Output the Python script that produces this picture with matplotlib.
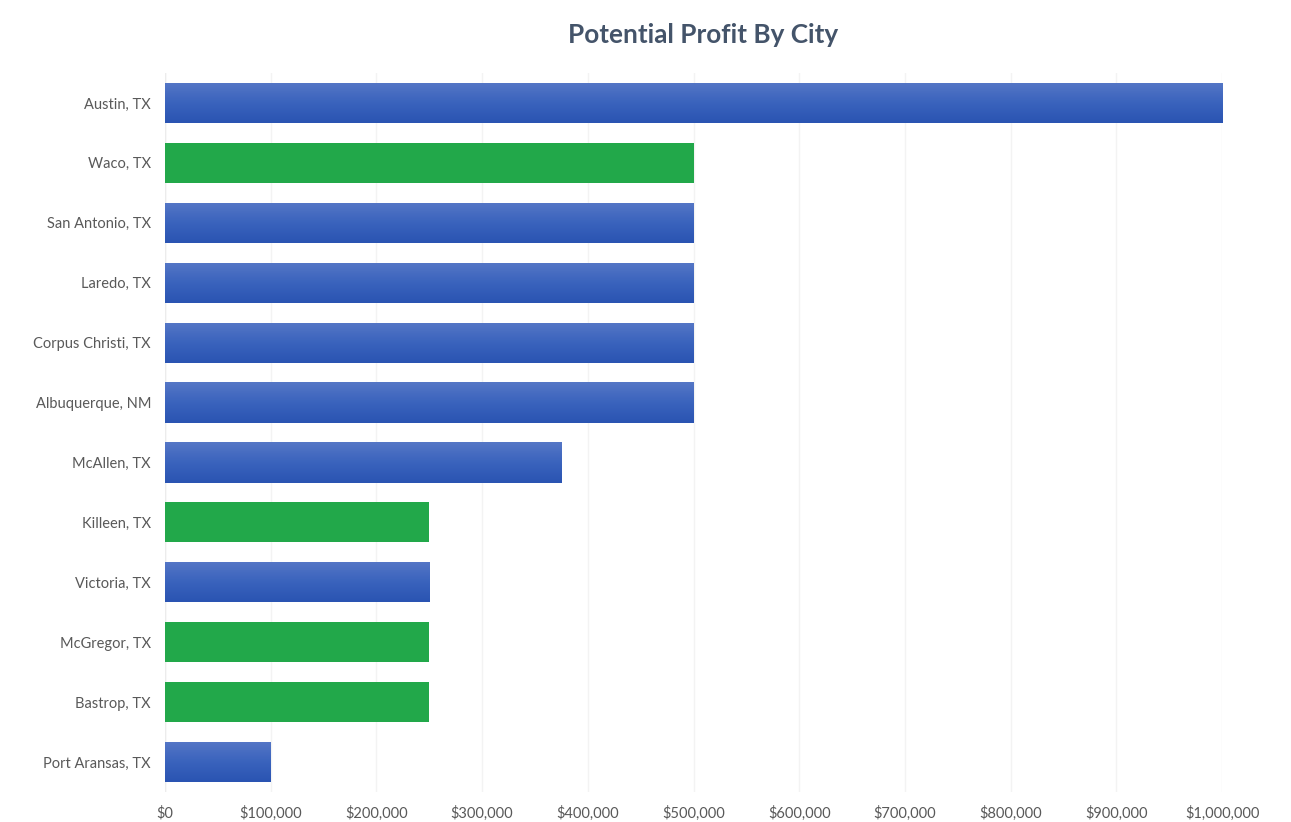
import numpy as np
import matplotlib.pyplot as plt
from matplotlib.colors import LinearSegmentedColormap
from matplotlib.ticker import FuncFormatter

cities = ["Austin, TX", "Waco, TX", "San Antonio, TX", "Laredo, TX",
          "Corpus Christi, TX", "Albuquerque, NM", "McAllen, TX", "Killeen, TX",
          "Victoria, TX", "McGregor, TX", "Bastrop, TX", "Port Aransas, TX"]
profit = [1000000, 500000, 500000, 500000, 500000, 500000, 375000, 250000,
          250000, 250000, 250000, 100000]
highlight = [False, True, False, False, False, False, False, True,
             False, True, True, False]

BLUE_TOP = "#5577c6"
BLUE_BOT = "#2a54b2"
GREEN = "#22a84a"
blue_grad = LinearSegmentedColormap.from_list("bluegrad", [BLUE_TOP, "#3a63bd", BLUE_BOT])

plt.rcParams['font.family'] = ['Lato', 'DejaVu Sans']

fig = plt.figure(figsize=(12.91, 8.22), dpi=100)
ax = fig.add_axes([0.1278, 0.0365, 0.8188, 0.8747])

y = np.arange(len(cities))
bars = ax.barh(y, profit, height=0.67,
               color=[GREEN if h else BLUE_BOT for h in highlight], zorder=2)

# vertical gradient on the blue bars: light at the top, darker at the bottom
grad = np.linspace(0, 1, 64).reshape(-1, 1)
for b, h in zip(bars, highlight):
    if h:
        continue
    x0, y0 = b.get_x(), b.get_y()
    im = ax.imshow(grad, cmap=blue_grad, aspect='auto', origin='upper',
                   extent=[x0, x0 + b.get_width(), y0 + b.get_height(), y0],
                   zorder=3)
    im.set_clip_path(b)

ax.set_ylim(len(cities) - 0.5, -0.5)
ax.set_xlim(0, 1000000)
ax.set_xticks(np.arange(0, 1000001, 100000))
ax.xaxis.set_major_formatter(FuncFormatter(lambda v, p: "${:,.0f}".format(v)))
ax.set_yticks(y)
ax.set_yticklabels(cities)
ax.tick_params(axis='both', length=0, labelsize=10.5, colors="#595959")
ax.tick_params(axis='y', pad=10)
ax.tick_params(axis='x', pad=10)
ax.grid(axis='x', color="#f3f3f3", linewidth=1, zorder=0)
ax.set_axisbelow(True)
for s in ax.spines.values():
    s.set_visible(False)
ax.axvline(0, color="#ececec", linewidth=1, zorder=1)

fig.text(0.5445, 0.957, "Potential Profit By City", ha='center', va='center',
         fontsize=18.8, fontweight='bold', color="#44546a")

fig.savefig("out.png", dpi=100)
